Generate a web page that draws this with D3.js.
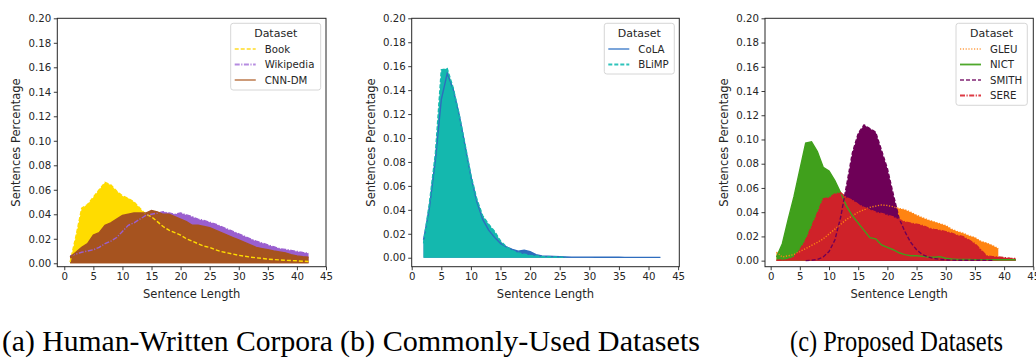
<!DOCTYPE html>
<html>
<head>
<meta charset="utf-8">
<script src="https://cdn.jsdelivr.net/npm/d3@7"></script>
<style>
  html, body { margin: 0; padding: 0; background: #fff; }
  svg { display: block; }
  .tick text { font-family: "DejaVu Sans", sans-serif; font-size: 10.2px; fill: #262626; }
  .tick line { stroke: #262626; stroke-width: 0.9; }
</style>
</head>
<body>
<svg id="fig" width="1036" height="358"></svg>
<script>
// Sentence length (x) vs share of sentences (y) for each dataset
const lengths = d3.range(1, 43);            // 1..42
const xTicks = [0, 5, 10, 15, 20, 25, 30, 35, 40, 45];
const yTicks = [0, 0.02, 0.04, 0.06, 0.08, 0.10, 0.12, 0.14, 0.16, 0.18, 0.20];

// (a) human-written corpora, lengths 1..42
const book = [0.001, 0.022, 0.045, 0.048, 0.054, 0.060, 0.066, 0.064, 0.059, 0.055,
  0.053, 0.050, 0.045, 0.040, 0.038, 0.034, 0.030, 0.027, 0.025, 0.023,
  0.020, 0.018, 0.016, 0.014, 0.013, 0.011, 0.0095, 0.0085, 0.0075, 0.0065,
  0.0058, 0.0050, 0.0045, 0.0040, 0.0034, 0.0030, 0.0027, 0.0024, 0.0022, 0.0020,
  0.0017, 0.0014];
const wikipedia = [0.006, 0.0075, 0.009, 0.010, 0.011, 0.013, 0.016, 0.018, 0.021, 0.026,
  0.031, 0.033, 0.036, 0.039, 0.040, 0.041, 0.042, 0.041, 0.040, 0.041,
  0.0395, 0.038, 0.036, 0.035, 0.0335, 0.032, 0.030, 0.028, 0.026, 0.024,
  0.022, 0.020, 0.018, 0.0165, 0.015, 0.0135, 0.012, 0.0113, 0.0105, 0.0097,
  0.0088, 0.0082];
const cnndm = [0.005, 0.009, 0.013, 0.016, 0.023, 0.025, 0.031, 0.033, 0.036, 0.039,
  0.040, 0.041, 0.041, 0.041, 0.043, 0.042, 0.040, 0.040, 0.038, 0.036,
  0.034, 0.031, 0.031, 0.030, 0.029, 0.027, 0.025, 0.023, 0.021, 0.019,
  0.017, 0.015, 0.013, 0.012, 0.011, 0.010, 0.0093, 0.0085, 0.007, 0.006,
  0.0053, 0.0049];

// (b) commonly-used datasets
const colaLengths = d3.range(2, 43);        // 2..42
const cola = [0.015, 0.042, 0.082, 0.132, 0.154, 0.141, 0.120, 0.094, 0.068, 0.047,
  0.032, 0.023, 0.017, 0.012, 0.009, 0.007, 0.0055, 0.0062, 0.005, 0.0025,
  0.0015, 0.0012, 0.001, 0.0008, 0.0006, 0.0005, 0.0005, 0.0005, 0.0005, 0.0004,
  0.0004, 0.0004, 0.0004, 0.0004, 0.0003, 0.0003, 0.0003, 0.0003, 0.0003, 0.0003,
  0.0003];
const blimpLengths = d3.range(2, 27);       // 2..26
const blimp = [0.012, 0.046, 0.087, 0.157, 0.158, 0.142, 0.120, 0.095, 0.069, 0.049,
  0.035, 0.028, 0.022, 0.014, 0.009, 0.006, 0.004, 0.003, 0.002, 0.0015,
  0.001, 0.0008, 0.0006, 0.0005, 0.0004];

// (c) proposed datasets
const gleuLengths = d3.range(1, 40);        // 1..39
const gleu = [0.007, 0.003, 0.004, 0.005, 0.0075, 0.010, 0.0125, 0.015, 0.018, 0.022,
  0.026, 0.030, 0.034, 0.037, 0.040, 0.042, 0.044, 0.045, 0.046, 0.0455,
  0.0445, 0.043, 0.042, 0.040, 0.0375, 0.0355, 0.0335, 0.032, 0.0305, 0.029,
  0.026, 0.024, 0.0226, 0.0205, 0.019, 0.016, 0.0145, 0.0125, 0.010];
const nict = [0.003, 0.014, 0.034, 0.053, 0.075, 0.097, 0.098, 0.090, 0.077, 0.074,
  0.066, 0.056, 0.045, 0.037, 0.031, 0.025, 0.019, 0.018, 0.013, 0.011,
  0.009, 0.0065, 0.005, 0.004, 0.004, 0.0035, 0.003, 0.0028, 0.0033, 0.002,
  0.0013, 0.001, 0.0009, 0.0009, 0.0008, 0.0008, 0.0008, 0.0008, 0.0007, 0.0007,
  0.0007, 0.0007];
const smithLengths = d3.range(6, 39);       // 6..38
const smith = [0.000, 0.0003, 0.001, 0.003, 0.0075, 0.017, 0.036, 0.062, 0.089, 0.105,
  0.112, 0.109, 0.106, 0.091, 0.076, 0.055, 0.035, 0.024, 0.015, 0.009,
  0.005, 0.003, 0.0018, 0.001, 0.0006, 0.0004, 0.0003, 0.0003, 0.0003, 0.0003,
  0.0003, 0.0002, 0.0002];
const sere = [0.0003, 0.0005, 0.001, 0.003, 0.009, 0.017, 0.028, 0.039, 0.051, 0.052,
  0.055, 0.056, 0.052, 0.050, 0.0465, 0.044, 0.042, 0.040, 0.039, 0.0375,
  0.036, 0.034, 0.032, 0.031, 0.030, 0.029, 0.027, 0.0258, 0.025, 0.024,
  0.0226, 0.021, 0.0198, 0.017, 0.014, 0.009, 0.004, 0.0033, 0.003, 0.0025,
  0.002, 0.0017];

const captions = ["(a) Human-Written Corpora", "(b) Commonly-Used Datasets", "(c) Proposed Datasets"];

// dash patterns for the line styles
const DASH = { solid: null, dashed: "4,2", dashdot: "5,1.5,1.2,1.5", dotted: "1.2,1.6" };

const panels = [
  {
    box: { left: 57.3, right: 326, top: 18.3, bottom: 266.7 },
    xDomain: [-1.2, 45], yDomain: [-0.0028, 0.2],
    legend: { x: 230.7, y: 23.3, w: 90, h: 66.7 },
    series: [
      { name: "Book", xs: lengths, ys: book, color: "#FFDC00", legend: "#FFE45A", dash: "dashed" },
      { name: "Wikipedia", xs: lengths, ys: wikipedia, color: "#9A5FCF", legend: "#B58BE0", dash: "dashdot" },
      { name: "CNN-DM", xs: lengths, ys: cnndm, color: "#A6531F", legend: "#C8906A", dash: "solid" }
    ]
  },
  {
    box: { left: 411.7, right: 679.3, top: 18.3, bottom: 266.7 },
    xDomain: [0, 45.2], yDomain: [-0.0075, 0.2],
    legend: { x: 604.3, y: 23.3, w: 70, h: 50.7 },
    series: [
      { name: "CoLA", xs: colaLengths, ys: cola, color: "#2E6DBE", legend: "#6C9BD6", dash: "solid" },
      { name: "BLiMP", xs: blimpLengths, ys: blimp, color: "#14B8AE", legend: "#2EC4BB", dash: "dashed" }
    ]
  },
  {
    box: { left: 765, right: 1033.3, top: 18.3, bottom: 266.7 },
    xDomain: [-0.97, 45], yDomain: [-0.005, 0.2],
    legend: { x: 956, y: 23.3, w: 71.3, h: 82 },
    series: [
      { name: "GLEU", xs: gleuLengths, ys: gleu, color: "#FF8412", legend: "#FFB877", dash: "dotted" },
      { name: "NICT", xs: lengths, ys: nict, color: "#40A01C", legend: "#4FA82C", dash: "solid" },
      { name: "SMITH", xs: smithLengths, ys: smith, color: "#6E0057", legend: "#A05A96", dash: "dashed" },
      { name: "SERE", xs: lengths, ys: sere, color: "#CF2229", legend: "#DE3A44", dash: "dashdot" }
    ]
  }
];

const svg = d3.select("#fig");
const ink = "#262626";

panels.forEach((p, i) => {
  const b = p.box;
  const x = d3.scaleLinear().domain(p.xDomain).range([b.left, b.right]);
  const y = d3.scaleLinear().domain(p.yDomain).range([b.bottom, b.top]);
  const g = svg.append("g");

  const clipId = "clip" + i;
  g.append("clipPath").attr("id", clipId)
    .append("rect").attr("x", b.left).attr("y", b.top)
    .attr("width", b.right - b.left).attr("height", b.bottom - b.top);

  const plot = g.append("g").attr("clip-path", `url(#${clipId})`);

  const area = d3.area().x(d => x(d[0])).y0(y(0)).y1(d => y(d[1]));
  const line = d3.line().x(d => x(d[0])).y(d => y(d[1]));

  // filled distributions first, in series order
  p.series.forEach(s => {
    const pts = s.xs.map((v, k) => [v, s.ys[k]]);
    plot.append("path").datum(pts).attr("d", area)
      .attr("fill", s.color).attr("stroke", "none");
  });
  // outlines on top of every fill
  p.series.forEach(s => {
    const pts = s.xs.map((v, k) => [v, s.ys[k]]);
    plot.append("path").datum(pts).attr("d", line)
      .attr("fill", "none").attr("stroke", s.color)
      .attr("stroke-width", 1.4)
      .attr("stroke-dasharray", DASH[s.dash]);
  });

  // axes
  const xAxis = d3.axisBottom(x).tickValues(xTicks).tickFormat(d3.format("d"))
    .tickSize(3.5).tickPadding(2.5);
  const yAxis = d3.axisLeft(y).tickValues(yTicks).tickFormat(d3.format(".2f"))
    .tickSize(3.5).tickPadding(2.5);
  g.append("g").attr("transform", `translate(0,${b.bottom})`).call(xAxis)
    .call(a => a.select(".domain").remove());
  g.append("g").attr("transform", `translate(${b.left},0)`).call(yAxis)
    .call(a => a.select(".domain").remove());

  // frame
  g.append("rect").attr("x", b.left).attr("y", b.top)
    .attr("width", b.right - b.left).attr("height", b.bottom - b.top)
    .attr("fill", "none").attr("stroke", ink).attr("stroke-width", 1);

  // axis titles
  g.append("text").attr("x", (b.left + b.right) / 2).attr("y", 298)
    .attr("text-anchor", "middle")
    .style("font-family", "DejaVu Sans, sans-serif").style("font-size", "11.5px")
    .attr("fill", ink).text("Sentence Length");
  const yMid = (b.top + b.bottom) / 2;
  g.append("text")
    .attr("transform", `translate(${b.left - 37},${yMid}) rotate(-90)`)
    .attr("text-anchor", "middle")
    .style("font-family", "DejaVu Sans, sans-serif").style("font-size", "11.5px")
    .attr("fill", ink).text("Sentences Percentage");

  // legend
  const L = p.legend;
  const lg = g.append("g");
  lg.append("rect").attr("x", L.x).attr("y", L.y).attr("width", L.w).attr("height", L.h)
    .attr("rx", 2.5).attr("fill", "#fff").attr("fill-opacity", 0.85)
    .attr("stroke", "#cccccc").attr("stroke-width", 0.8);
  lg.append("text").attr("x", L.x + L.w / 2).attr("y", L.y + 14)
    .attr("text-anchor", "middle")
    .style("font-family", "DejaVu Sans, sans-serif").style("font-size", "11px")
    .attr("fill", ink).text("Dataset");
  p.series.forEach((s, k) => {
    const cy = L.y + 25.7 + k * 15.5;
    lg.append("line").attr("x1", L.x + 4).attr("x2", L.x + 25)
      .attr("y1", cy).attr("y2", cy)
      .attr("stroke", s.legend).attr("stroke-width", 1.8)
      .attr("stroke-dasharray", DASH[s.dash]);
    lg.append("text").attr("x", L.x + 34).attr("y", cy + 3.6)
      .style("font-family", "DejaVu Sans, sans-serif").style("font-size", "10.2px")
      .attr("fill", ink).text(s.name);
  });
});

// sub-figure captions (tall, narrow serif)
const capPos = [
  { x: 2, w: 331 },
  { x: 340, w: 360 },
  { x: 790, w: 213 }
];
captions.forEach((c, i) => {
  svg.append("text")
    .attr("transform", `translate(${capPos[i].x},351) scale(1,1.25)`)
    .attr("textLength", capPos[i].w).attr("lengthAdjust", "spacingAndGlyphs")
    .style("font-family", "Liberation Serif, serif").style("font-size", "23px")
    .attr("fill", "#000").text(c);
});
</script>
</body>
</html>
